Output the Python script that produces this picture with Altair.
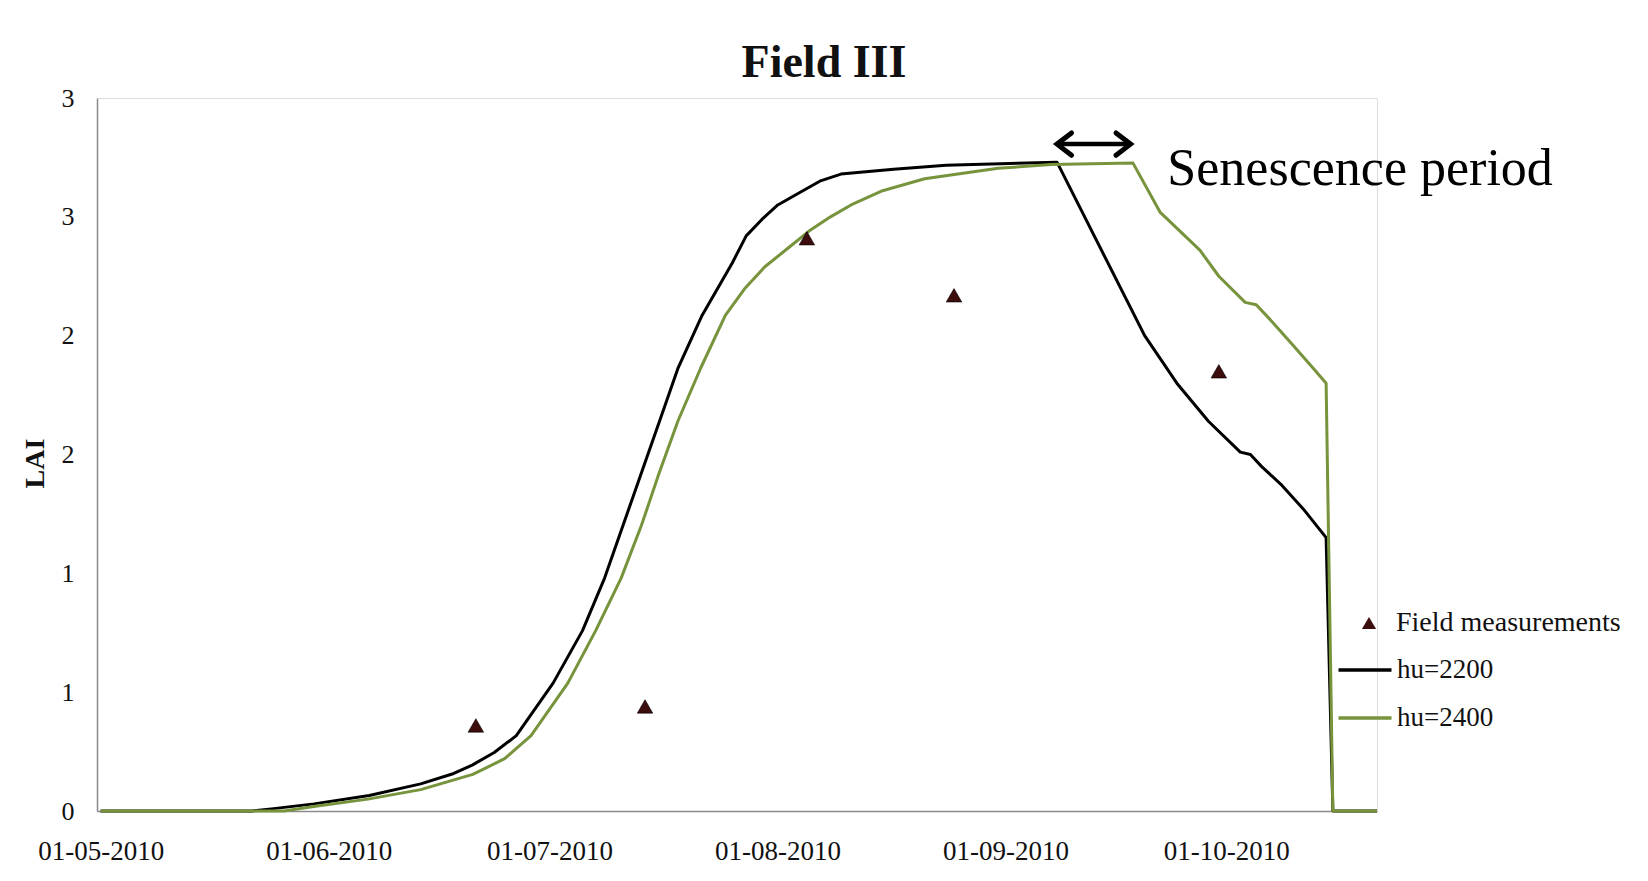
import altair as alt
import pandas as pd

# ---- data ----
black_dates = [
    "2010-05-01T00:00", "2010-05-21T12:00", "2010-05-24T12:00", "2010-05-30T00:00",
    "2010-06-06T12:00", "2010-06-13T12:00", "2010-06-18T00:00", "2010-06-20T12:00",
    "2010-06-23T12:00", "2010-06-26T12:00", "2010-07-01T12:00", "2010-07-05T12:00",
    "2010-07-08T12:00", "2010-07-11T00:00", "2010-07-13T12:00", "2010-07-16T00:00",
    "2010-07-18T12:00", "2010-07-21T18:00", "2010-07-25T21:00", "2010-07-27T18:00",
    "2010-07-29T22:00", "2010-08-01T01:00", "2010-08-03T22:00", "2010-08-06T18:00",
    "2010-08-09T15:00", "2010-08-16T19:00", "2010-08-23T22:00", "2010-09-08T00:00",
    "2010-09-19T22:00", "2010-09-24T07:00", "2010-09-28T14:00", "2010-10-02T22:00",
    "2010-10-04T07:00", "2010-10-05T19:00", "2010-10-08T14:00", "2010-10-11T12:00",
    "2010-10-14T14:00", "2010-10-15T12:00", "2010-10-21T12:00",
]
black_values = [
    0.00, 0.00, 0.01, 0.03,
    0.065, 0.114, 0.158, 0.193,
    0.246, 0.317, 0.538, 0.759,
    0.98, 1.201, 1.422, 1.643,
    1.865, 2.085, 2.307, 2.42,
    2.49, 2.55, 2.60, 2.65,
    2.68, 2.70, 2.717, 2.73,
    2.00, 1.80, 1.64, 1.51,
    1.50, 1.45, 1.37, 1.27,
    1.15, 0.00, 0.00,
]

green_dates = [
    "2010-05-01T00:00", "2010-05-25T22:00", "2010-05-30T05:00", "2010-06-06T08:00",
    "2010-06-13T12:00", "2010-06-20T14:00", "2010-06-24T22:00", "2010-06-28T12:00",
    "2010-07-03T12:00", "2010-07-07T07:00", "2010-07-10T18:00", "2010-07-13T12:00",
    "2010-07-15T22:00", "2010-07-18T12:00", "2010-07-21T14:00", "2010-07-24T22:00",
    "2010-07-27T12:00", "2010-07-30T07:00", "2010-08-02T12:00", "2010-08-05T07:00",
    "2010-08-08T05:00", "2010-08-11T00:00", "2010-08-15T07:00", "2010-08-21T00:00",
    "2010-08-31T00:00", "2010-09-07T05:00", "2010-09-18T08:00", "2010-09-22T00:00",
    "2010-09-27T10:00", "2010-09-30T00:00", "2010-10-03T14:00", "2010-10-05T02:00",
    "2010-10-07T05:00", "2010-10-10T02:00", "2010-10-12T22:00", "2010-10-14T14:00",
    "2010-10-15T12:00", "2010-10-21T12:00",
]
green_values = [
    0.00, 0.00, 0.02, 0.05,
    0.09, 0.154, 0.22, 0.317,
    0.538, 0.759, 0.98, 1.201,
    1.422, 1.643, 1.865, 2.085,
    2.196, 2.29, 2.37, 2.44,
    2.50, 2.55, 2.61, 2.66,
    2.704, 2.72, 2.726, 2.52,
    2.36, 2.25, 2.14, 2.13,
    2.06, 1.96, 1.86, 1.80,
    0.00, 0.00,
]

meas_dates = ["2010-06-21T00:00", "2010-07-14T00:00", "2010-08-05T00:00",
              "2010-08-25T00:00", "2010-09-30T00:00"]
meas_values = [0.36, 0.44, 2.41, 2.17, 1.85]

series_names = ["Field measurements", "hu=2200", "hu=2400"]
series_colors = ["#3d0c0c", "#000000", "#77933C"]

x_tick_months = [5, 6, 7, 8, 9, 10]
y_tick_values = [0, 0.5, 1, 1.5, 2, 2.5, 3]

arrow_start = ["2010-09-08T00:00"]
arrow_end = ["2010-09-18T00:00"]
arrow_value = [2.806]

annot_date = ["2010-09-23T00:00"]
annot_value = [2.634]
annot_text = ["Senescence period"]

# ---- tables ----
lines = pd.DataFrame({
    "date": black_dates + green_dates,
    "LAI": black_values + green_values,
    "series": [series_names[1]] * len(black_dates) + [series_names[2]] * len(green_dates),
})
meas = pd.DataFrame({"date": meas_dates, "LAI": meas_values,
                     "series": [series_names[0]] * len(meas_dates)})
arrow = pd.DataFrame({"date": arrow_start, "end": arrow_end, "LAI": arrow_value})
arrow_l = pd.DataFrame({"date": arrow_start, "LAI": arrow_value})
arrow_r = pd.DataFrame({"date": arrow_end, "LAI": arrow_value})
annot = pd.DataFrame({"date": annot_date, "LAI": annot_value, "text": annot_text})

SERIF = "Liberation Serif"
AXIS_GREY = "#8a8a8a"

x_scale = alt.Scale(domain=[alt.DateTime(year=2010, month=4, date=30, hours=12),
                            alt.DateTime(year=2010, month=10, date=21, hours=12)])
y_scale = alt.Scale(domain=[0, 3], nice=False, zero=True)

x_axis = alt.Axis(
    values=[alt.DateTime(year=2010, month=m, date=1) for m in x_tick_months],
    format="%d-%m-%Y", title=None, grid=False, ticks=False,
    domainColor=AXIS_GREY, domainWidth=1.5,
    labelFont=SERIF, labelFontSize=27, labelColor="#111", labelPadding=27,
    labelFlush=False, labelOverlap=False,
)
y_axis = alt.Axis(
    values=y_tick_values, labelExpr="format(round(datum.value), 'd')",
    title="LAI", grid=False, ticks=False,
    domainColor=AXIS_GREY, domainWidth=1.5,
    labelFont=SERIF, labelFontSize=26, labelColor="#111", labelPadding=23,
    titleFont=SERIF, titleFontSize=28, titleFontWeight="bold", titleColor="#111",
    titleAngle=270, titleX=-54, titleY=365, titleBaseline="alphabetic", titleAlign="center",
)

X = alt.X("date:T", scale=x_scale, axis=x_axis)
Y = alt.Y("LAI:Q", scale=y_scale, axis=y_axis)

line_layer = alt.Chart(lines).mark_line(strokeWidth=3, strokeJoin="round").encode(
    x=X, y=Y,
    color=alt.Color(
        "series:N",
        scale=alt.Scale(domain=series_names[1:], range=series_colors[1:]),
        legend=alt.Legend(
            title=None, orient="none", legendX=1253, legendY=557,
            symbolType="M-2,0L2,0", symbolSize=702, symbolStrokeWidth=3.5,
            labelOffset=17, rowPadding=20, padding=0,
            labelFont=SERIF, labelFontSize=27, labelColor="#111", labelLimit=400,
        ),
    ),
    order=alt.Order("series:N"),
)

point_layer = alt.Chart(meas).mark_point(
    filled=True, size=240, color=series_colors[0], opacity=1,
    stroke="#000000", strokeWidth=0.6,
).encode(
    x=X, y=Y,
    shape=alt.Shape(
        "series:N",
        scale=alt.Scale(domain=series_names[:1], range=["triangle-up"]),
        legend=alt.Legend(
            title=None, orient="none", legendX=1258, legendY=511,
            symbolSize=200, symbolFillColor=series_colors[0], symbolStrokeColor="#000000",
            symbolStrokeWidth=0.6, labelOffset=13, padding=0,
            labelFont=SERIF, labelFontSize=28, labelColor="#111", labelLimit=400,
        ),
    ),
)

arrow_rule = alt.Chart(arrow).mark_rule(strokeWidth=4.5, color="black").encode(
    x=X, x2=alt.X2("end:T"), y=Y,
)
arrow_left = alt.Chart(arrow_l).mark_point(
    shape="M1.3,-1L0,0L1.3,1", size=500, filled=False, color="black",
    strokeWidth=5, opacity=1, strokeJoin="miter", strokeCap="round",
).encode(x=X, y=Y)
arrow_right = alt.Chart(arrow_r).mark_point(
    shape="M-1.3,-1L0,0L-1.3,1", size=500, filled=False, color="black",
    strokeWidth=5, opacity=1, strokeJoin="miter", strokeCap="round",
).encode(x=X, y=Y)

annot_layer = alt.Chart(annot).mark_text(
    align="left", baseline="alphabetic", font=SERIF, fontSize=52, color="black",
).encode(x=X, y=Y, text="text:N")

chart = alt.layer(
    line_layer, point_layer, arrow_rule, arrow_left, arrow_right, annot_layer
).properties(
    width=1280, height=713,
    autosize=alt.AutoSizeParams(type="none"),
    padding={"left": 89, "top": 90, "right": 263, "bottom": 62},
    title=alt.TitleParams(
        "Field III", font=SERIF, fontSize=46, fontWeight="bold", color="#111",
        anchor="middle", dx=87, dy=12, offset=10,
    ),
).configure_view(stroke=None).configure(background="white")

chart.save("out.html", embed_options={"renderer": "svg", "actions": False})
